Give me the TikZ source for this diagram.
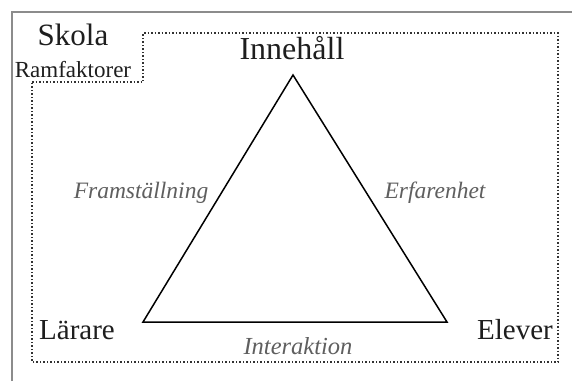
\documentclass[tikz,border=0pt]{standalone}
\usepackage{fontspec}
\setmainfont{Liberation Serif}
\definecolor{framegray}{RGB}{140,140,140}
\definecolor{dotgray}{RGB}{50,50,50}
\definecolor{labelgray}{RGB}{95,95,95}
\definecolor{textdark}{RGB}{30,30,30}
\begin{document}
\begin{tikzpicture}[x=1pt,y=-1pt,
  corner/.style={inner sep=0pt,text=textdark,font=\fontsize{29}{34}\selectfont},
  edgelabel/.style={inner sep=0pt,text=labelgray,font=\fontsize{23.5}{28}\selectfont\itshape},
  outerframe/.style={draw=framegray,line width=2pt},
  dotframe/.style={draw=dotgray,line width=1.5pt,dotted},
  tri/.style={draw=black,line width=1.5pt,line join=miter}]
\useasboundingbox (0,0) rectangle (572,381);
\fill[white] (0,0) rectangle (572,381);
% outer frame (top and left only)
\draw[outerframe] (12,381) -- (12,12) -- (572,12);
% dotted frame
\draw[dotframe] (32,82) -- (143,82) -- (143,33) -- (558,33) -- (558,362) -- (32,362) -- cycle;
% triangle corners
\coordinate (top) at (293,75);
\coordinate (bl) at (143,322);
\coordinate (br) at (447,322);
\draw[tri] (top) -- (br) -- (bl) -- cycle;
% labels
\node[corner,font=\fontsize{31}{36}\selectfont] (skola) at (73,35) {Skola};
\node[corner,font=\fontsize{23}{28}\selectfont] (ram) at (73,70) {Ramfaktorer};
\node[corner,font=\fontsize{32}{38}\selectfont] (inn) at (292,48) {Innehåll};
\node[corner] (lar) at (77,330) {Lärare};
\node[corner] (elev) at (515,330) {Elever};
\node[edgelabel] (fram) at (141,193) {Framställning};
\node[edgelabel] (erf) at (435,193) {Erfarenhet};
\node[edgelabel,font=\fontsize{24.5}{29}\selectfont\itshape] (inter) at (298,346) {Interaktion};
\end{tikzpicture}
\end{document}
